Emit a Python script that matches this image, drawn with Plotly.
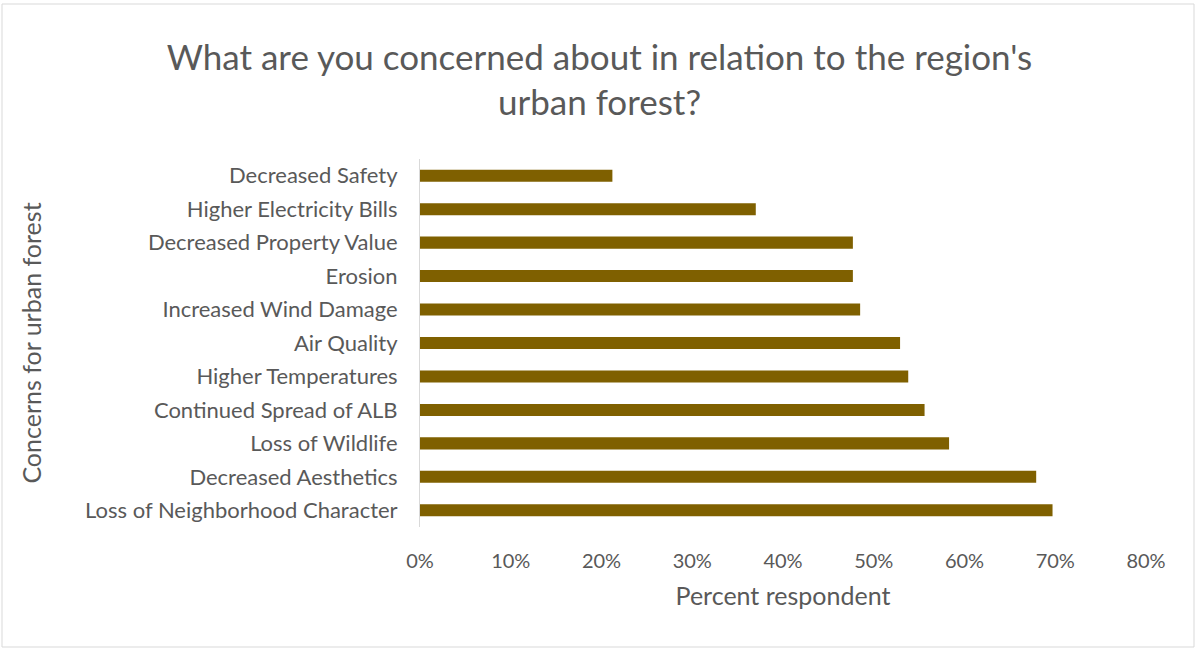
import plotly.graph_objects as go

categories = [
    "Loss of Neighborhood Character",
    "Decreased Aesthetics",
    "Loss of Wildlife",
    "Continued Spread of ALB",
    "Higher Temperatures",
    "Air Quality",
    "Increased Wind Damage",
    "Erosion",
    "Decreased Property Value",
    "Higher Electricity Bills",
    "Decreased Safety",
]
percent = [0.697, 0.679, 0.583, 0.556, 0.538, 0.529, 0.485, 0.477, 0.477, 0.370, 0.212]

x_ticks = [0, 0.1, 0.2, 0.3, 0.4, 0.5, 0.6, 0.7, 0.8]
x_tick_labels = ["0%", "10%", "20%", "30%", "40%", "50%", "60%", "70%", "80%"]

FONT = "Lato, Calibri, Carlito, sans-serif"
GREY = "#595959"

fig = go.Figure(
    go.Bar(
        x=percent,
        y=categories,
        orientation="h",
        marker=dict(color="#7f6000", line=dict(width=0)),
        width=0.36,
    )
)

fig.update_layout(
    width=1199,
    height=652,
    margin=dict(l=420, r=53, t=159, b=125),
    paper_bgcolor="white",
    plot_bgcolor="white",
    showlegend=False,
    font=dict(family=FONT, color=GREY),
    title=dict(
        text="What are you concerned about in relation to the region's<br>urban forest?",
        x=0.5,
        xanchor="center",
        y=0.893,
        yanchor="top",
        font=dict(size=35, color=GREY, family=FONT),
    ),
    xaxis=dict(
        range=[0, 0.8],
        tickvals=x_ticks,
        ticktext=x_tick_labels,
        showgrid=False,
        zeroline=False,
        showline=False,
        ticks="",
        ticklabelstandoff=20,
        tickfont=dict(size=20, color=GREY),
        title=dict(text="Percent respondent", font=dict(size=25, color=GREY), standoff=16),
    ),
    yaxis=dict(
        categoryorder="array",
        categoryarray=categories,
        showgrid=False,
        zeroline=False,
        showline=True,
        linecolor="#d9d9d9",
        linewidth=1,
        ticks="",
        ticklabelstandoff=17,
        tickfont=dict(size=22, color=GREY),
        title=dict(text="Concerns for urban forest", font=dict(size=25, color=GREY), standoff=36),
    ),
    shapes=[
        dict(
            type="rect", xref="paper", yref="paper",
            x0=-418 / 726, x1=1 + 48 / 726, y0=-120 / 368, y1=1 + 155 / 368,
            line=dict(color="#d9d9d9", width=1), fillcolor="rgba(0,0,0,0)",
        )
    ],
)

fig.write_html("out.html")
